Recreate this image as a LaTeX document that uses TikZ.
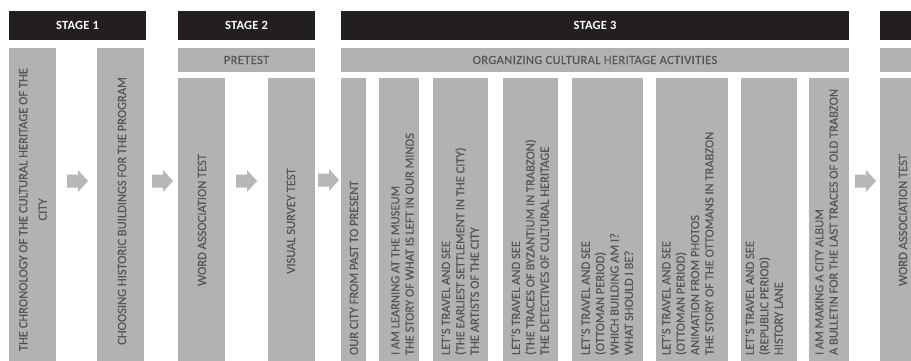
\documentclass[tikz,border=0pt]{standalone}
\usepackage{fontspec}
\setmainfont{Carlito}
\newfontfamily\boxfont{Carlito}[FakeBold=0.35]
\definecolor{barblack}{HTML}{231F20}
\definecolor{colgray}{HTML}{B2B2B4}
\definecolor{txtgray}{HTML}{555557}
\definecolor{arrowgray}{HTML}{B7B7B9}
\begin{document}
\begin{tikzpicture}[x=1pt,y=-1pt,
  every node/.style={inner sep=0pt, outer sep=0pt},
  blackbar/.style={anchor=north west, fill=barblack, text=white,
    minimum height=29pt, font=\fontsize{12.5}{14}\selectfont\bfseries\addfontfeature{LetterSpace=2}},
  subbar/.style={anchor=north west, fill=colgray, text=txtgray,
    minimum height=24pt, font=\boxfont\fontsize{12.5}{14}\selectfont\addfontfeature{LetterSpace=3}},
  colbox/.style={anchor=north west, fill=colgray},
  coltext/.style={rotate=90, text=txtgray, font=\boxfont\fontsize{12.5}{14.4}\selectfont},
  bottomtext/.style={coltext, anchor=west, align=left},
  blockarrow/.pic={\fill[arrowgray] (0,-6.5) -- (11,-6.5) -- (11,-11) -- (21,0)
    -- (11,11) -- (11,6.5) -- (0,6.5) -- cycle;}
]
\useasboundingbox (0,0) rectangle (911,361);
\fill[white] (0,0) rectangle (911,361);
\clip (0,0) rectangle (911,361);

% stage headers
\node[blackbar, minimum width=137pt] (st1) at (9,11)   {STAGE 1};
\node[blackbar, minimum width=137pt] (st2) at (178,11) {STAGE 2};
\node[blackbar, minimum width=508pt] (st3) at (341,11) {STAGE 3};
\node[blackbar, minimum width=137pt] (st4) at (880,11) {};

% sub headers
\node[subbar, minimum width=137pt] (pre) at (178,48) {PRETEST};
\node[subbar, minimum width=508pt] (org) at (341,48) {ORGANIZING CULTURAL HERITAGE ACTIVITIES};
\node[subbar, minimum width=137pt] (post) at (880,48) {};

% stage 1 columns
\node[colbox, minimum width=47pt, minimum height=313pt] (c11) at (9,48) {};
\node[colbox, minimum width=47pt, minimum height=313pt] (c12) at (97,48) {};
% stage 2 columns
\node[colbox, minimum width=47pt, minimum height=283pt] (c21) at (178,78) {};
\node[colbox, minimum width=47pt, minimum height=283pt] (c22) at (268,78) {};
% stage 3 columns
\node[colbox, minimum width=25pt, minimum height=283pt] (c31) at (341,78) {};
\node[colbox, minimum width=40pt, minimum height=283pt] (c32) at (379,78) {};
\node[colbox, minimum width=55pt, minimum height=283pt] (c33) at (433,78) {};
\node[colbox, minimum width=55pt, minimum height=283pt] (c34) at (503,78) {};
\node[colbox, minimum width=71pt, minimum height=283pt] (c35) at (572,78) {};
\node[colbox, minimum width=72pt, minimum height=283pt] (c36) at (656,78) {};
\node[colbox, minimum width=56pt, minimum height=283pt] (c37) at (741,78) {};
\node[colbox, minimum width=40pt, minimum height=283pt] (c38) at (809,78) {};
% stage 4 column
\node[colbox, minimum width=47pt, minimum height=283pt] (c41) at (880,78) {};

% column texts, stages 1, 2 and 4 (centred)
\node[coltext, align=center, font=\boxfont\fontsize{12.5}{19.5}\selectfont] (t11) at (33,209.5)
  {THE CHRONOLOGY OF THE CULTURAL HERITAGE OF THE\\CITY};
\node[coltext] (t12) at (122,211) {CHOOSING HISTORIC BUILDINGS FOR THE PROGRAM};
\node[coltext] (t21) at (202,220) {WORD ASSOCIATION TEST};
\node[coltext] (t22) at (291,221) {VISUAL SURVEY TEST};
\node[coltext] (t41) at (903,220) {WORD ASSOCIATION TEST};

% column texts, stage 3 (set from the bottom)
\node[bottomtext] (t31) at (354,355) {OUR CITY FROM PAST TO PRESENT};
\node[bottomtext] (t32) at (402.5,355) {I AM LEARNING AT THE MUSEUM\\THE STORY OF WHAT IS LEFT IN OUR MINDS};
\node[bottomtext] (t33) at (460,355) {LET’S TRAVEL AND SEE\\(THE EARLIEST SETTLEMENT IN THE CITY)\\THE ARTISTS OF THE CITY};
\node[bottomtext] (t34) at (530,355) {LET’S TRAVEL AND SEE\\(THE TRACES OF BYZANTIUM IN TRABZON)\\THE DETECTIVES OF CULTURAL HERITAGE};
\node[bottomtext] (t35) at (607,355) {LET’S TRAVEL AND SEE\\(OTTOMAN PERIOD)\\WHICH BUILDING AM I?\\WHAT SHOULD I BE?};
\node[bottomtext] (t36) at (687.5,355) {LET’S TRAVEL AND SEE\\(OTTOMAN PERIOD)\\ANIMATION FROM PHOTOS\\THE STORY OF THE OTTOMANS IN TRABZON};
\node[bottomtext] (t37) at (764,355) {LET’S TRAVEL AND SEE\\(REPUBLIC PERIOD)\\HISTORY LANE};
\node[bottomtext] (t38) at (826.5,355) {I AM MAKING A CITY ALBUM\\A BULLETIN FOR THE LAST TRACES OF OLD TRABZON};

% block arrows between the steps
\pic (ar1) at (67,181)  {blockarrow};
\pic (ar2) at (152,181) {blockarrow};
\pic (ar3) at (236,181) {blockarrow};
\pic (ar4) at (318,180) {blockarrow};
\pic (ar5) at (855,181) {blockarrow};
\end{tikzpicture}
\end{document}
